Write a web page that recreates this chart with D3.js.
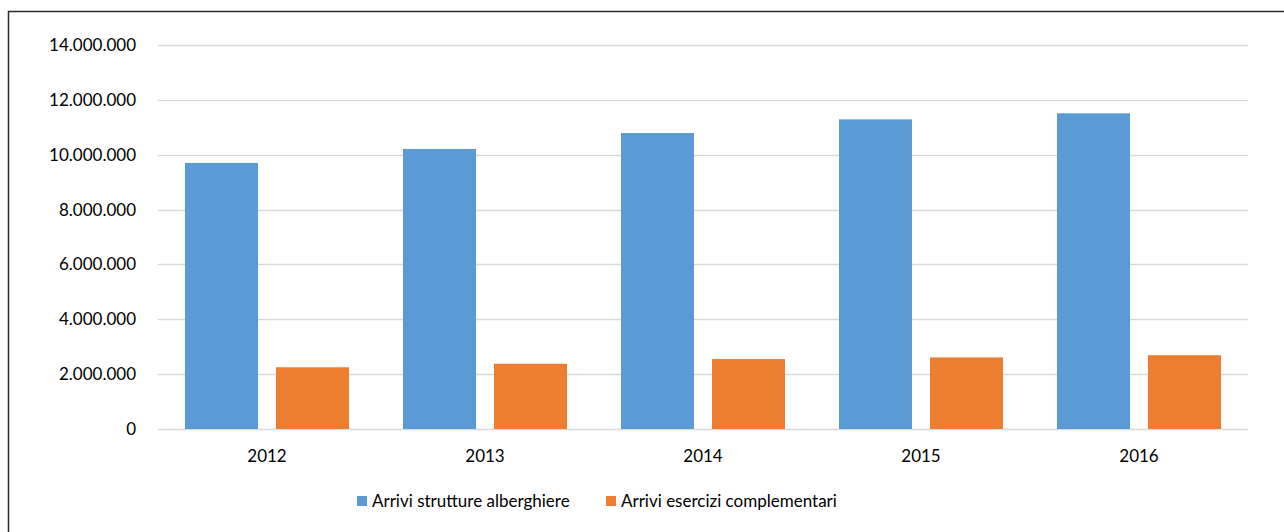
<!doctype html>
<html lang="it">
<head>
<meta charset="utf-8">
<script src="https://d3js.org/d3.v7.min.js"></script>
<title>Arrivi</title>
<style>
  body { margin: 0; background: #fff; }
  svg text { font-family: Lato, "Noto Sans", sans-serif; fill: #000; font-size: 17px; }
</style>
</head>
<body>
<div id="chart"></div>
<script>
const years = ['2012', '2013', '2014', '2015', '2016'];
const alberghiere = [9700000, 10210000, 10790000, 11290000, 11510000];
const complementari = [2250000, 2380000, 2550000, 2610000, 2690000];
const seriesNames = ['Arrivi strutture alberghiere', 'Arrivi esercizi complementari'];
const colors = ['#5B9BD5', '#ED7D31'];
const yTicks = [0, 2000000, 4000000, 6000000, 8000000, 10000000, 12000000, 14000000];

const W = 1284, H = 532;
const mLeft = 158, mRight = 1248, mTop = 45, mBottom = 429;

const svg = d3.select('#chart').append('svg')
  .attr('width', W).attr('height', H);

// frame (cropped on right and bottom)
svg.append('path')
  .attr('d', 'M8.5,' + H + ' V11.5 H' + W)
  .attr('fill', 'none')
  .attr('stroke', '#2b2b2b')
  .attr('stroke-width', 1.5);

const x = d3.scaleBand().domain(years).range([mLeft, mRight]);
const y = d3.scaleLinear().domain([0, 14000000]).range([mBottom, mTop]);

const fmt = d => d3.format(',')(d).replace(/,/g, '.');

// gridlines
svg.append('g').selectAll('line').data(yTicks).enter().append('line')
  .attr('x1', mLeft).attr('x2', mRight)
  .attr('y1', d => Math.round(y(d)) + 0.5).attr('y2', d => Math.round(y(d)) + 0.5)
  .attr('stroke', '#d9d9d9').attr('stroke-width', 1.5);

// y labels
svg.append('g').selectAll('text').data(yTicks).enter().append('text')
  .attr('x', 136).attr('y', d => y(d) + 6)
  .attr('text-anchor', 'end')
  .text(fmt);

// bars
const barW = 73, gap = 18;
const off = (x.bandwidth() - (2 * barW + gap)) / 2;
[alberghiere, complementari].forEach((vals, s) => {
  svg.append('g').selectAll('rect').data(vals).enter().append('rect')
    .attr('x', (d, i) => x(years[i]) + off + s * (barW + gap))
    .attr('width', barW)
    .attr('y', d => y(d))
    .attr('height', d => mBottom - y(d))
    .attr('fill', colors[s]);
});

// x labels
svg.append('g').selectAll('text').data(years).enter().append('text')
  .attr('x', d => x(d) + x.bandwidth() / 2)
  .attr('y', 462)
  .attr('text-anchor', 'middle')
  .text(d => d);

// legend
const legendX = [357, 606];
seriesNames.forEach((n, s) => {
  svg.append('rect').attr('x', legendX[s]).attr('y', 496).attr('width', 10).attr('height', 10).attr('fill', colors[s]);
  svg.append('text').attr('x', legendX[s] + 15).attr('y', 507).text(n);
});
</script>
</body>
</html>
